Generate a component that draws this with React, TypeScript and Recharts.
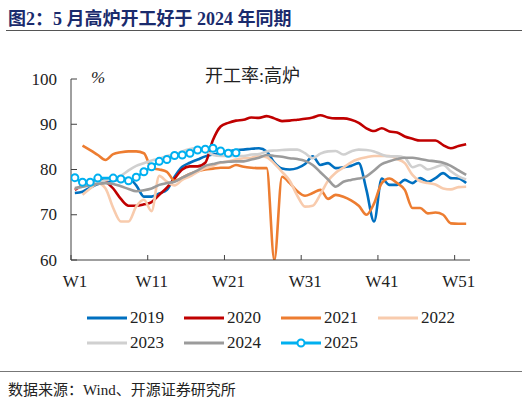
import { LineChart, Line, XAxis, YAxis } from 'recharts';

document.body.style.margin = '0';

// weekly blast furnace utilisation (%), W1..W52
const weeks = Array.from({ length: 52 }, (_, i) => i + 1);

const y2019 = [
  74.8, 75.1, 76, 76.8, 77.2, 77.5, 77.8, 78, 76.5, 74, 74, 74.7, 75.5, 78.4, 80.6, 81.5, 82.2, 82.9,
  83.3, 83.6, 84, 84.3, 84.4, 84.6, 84.7, 84, 81.5, 80.2, 80, 80.3, 81.2, 82.9, 81, 81.4, 80.3, 80.5,
  80.8, 81.4, 75.5, 68.5, 78, 76.6, 76.6, 77.7, 77, 78.1, 77.3, 78.1, 79.2, 78.1, 78, 77,
];
const y2020 = [
  75.5, 76.5, 77.3, 77.8, 77.3, 75.8, 73.5, 72, 72, 72.3, 72.8, 74.4, 76, 78, 80, 80.7, 80.7, 81.5,
  86.5, 89.5, 90.3, 90.8, 91, 91.5, 91.4, 91.8, 91.3, 90.7, 90.8, 91, 91.2, 91.5, 92, 91.5, 91.3, 91.3,
  91, 90.3, 89.1, 88.5, 89.1, 88.4, 88.2, 87.3, 86.8, 86.4, 86.4, 86.4, 85.4, 84.7, 85.2, 85.6,
];
const y2021 = [
  null, 85.3, 84.3, 83.2, 82.1, 83.4, 83.8, 84, 84, 83.6, 80.3, 80, 79.5, 77.5, 78.2, 79, 79.6, 80,
  80.2, 80.4, 80.4, 81, 80.6, 80.4, 80.3, 80.3, 60, 78.4, 77, 75.2, 74.2, 74.8, 75.5, 73.5, 74.4, 74,
  73.2, 72, 70, 72.5, 77, 78, 77, 75.5, 71.5, 71.5, 70.3, 70.5, 70, 68.1, 68, 68,
];
const y2022 = [
  null, 74.4, 75.8, 77, 75.8, 71.5, 68.5, 68.5, 71.8, 73.3, 70.8, 78.6, 77.3, 76.5, 77.7, 78.5, 79.5, 80.3,
  80.8, 81.5, 81.8, 82.2, 82.5, 82.6, 83, 82.7, 81.3, 79.5, 77.5, 74.2, 71.8, 72, 74.5, 77.5, 79.3, 80.4,
  81.6, 82.3, 82.7, 83, 83, 83, 82.3, 81.4, 78.8, 77.4, 77, 76.7, 75.8, 75.6, 76.1, 76.2,
];
const y2023 = [
  75.8, 76.2, 76.8, 77.3, 77.6, 78, 78.6, 79.8, 80.8, 81.4, 82, 82.4, 83, 83.3, 84, 84.5, 84.8, 84.2,
  83.2, 83, 83, 83, 83, 83.3, 83.4, 84, 84.2, 84.3, 84.4, 84.4, 83.6, 82.5, 83.5, 84, 84.1, 83.3,
  84, 84.4, 84.3, 84, 83.3, 82.9, 82.9, 82.6, 80.5, 81, 80, 80.5, 81, 79.6, 78.5, 77.8,
];
const y2024 = [
  75.9, 76.2, 76.5, 76.8, 77, 76.8, 76.3, 75.7, 75.2, 75.4, 75.8, 76.6, 77, 77.3, 78.2, 79, 79.8, 80.8,
  81.2, 81.6, 81.7, 81.8, 81.8, 82.2, 82.6, 83.2, 83, 82.8, 82.5, 82.3, 81.9, 81, 79.4, 77.8, 76.2, 77.3,
  77.7, 78, 78.5, 79.8, 81.2, 81.8, 82.3, 82.6, 82.6, 82.3, 82, 81.8, 81.5, 80.8, 79.8, 78.8,
];
const y2025 = [
  78.2, 77.2, 77.2, 78.1, null, 78.1, 77.9, 77.5, 78.3, 79.5, 80.6, 81.8, 82.2, 83.1, 83.2, 83.6, 84.3, 84.5,
  84.7, 84.1, 83.6, 83.7,
];

const yTicks = [60, 70, 80, 90, 100];
const xTickWeeks = [1, 11, 21, 31, 41, 51];

const series = [
  { key: 'y2019', name: '2019', values: y2019, color: '#0070C0' },
  { key: 'y2020', name: '2020', values: y2020, color: '#C00000' },
  { key: 'y2021', name: '2021', values: y2021, color: '#ED7D31' },
  { key: 'y2022', name: '2022', values: y2022, color: '#F8CBAD' },
  { key: 'y2023', name: '2023', values: y2023, color: '#D0D0D0' },
  { key: 'y2024', name: '2024', values: y2024, color: '#9B9B9B' },
  { key: 'y2025', name: '2025', values: y2025, color: '#00B0F0', dots: true },
];

// each week sits in the middle of its band, ticks sit on band edges
const data = weeks.map((w, i) => {
  const row: Record<string, number | null> = { week: w - 0.5 };
  series.forEach((s) => {
    row[s.key] = i < s.values.length ? s.values[i] : null;
  });
  return row;
});

const SERIF = "'Times New Roman', 'Liberation Serif', 'Noto Sans CJK SC', serif";
const AXIS = '#404040';

const YTick = ({ x, y, payload }: any) => (
  <g>
    <line x1={x} x2={x + 6} y1={y} y2={y} stroke={AXIS} />
    <text x={x - 14} y={y} textAnchor="end" dominantBaseline="central" fontSize={17} fontFamily={SERIF} fill="#222">
      {payload.value}
    </text>
  </g>
);

const XTick = ({ x, y, payload }: any) => (
  <g>
    <line x1={x} x2={x} y1={y} y2={y - 5} stroke={AXIS} />
    <text x={x + 4} y={y + 27} textAnchor="middle" fontSize={17} fontFamily={SERIF} fill="#222">
      {'W' + (payload.value + 1)}
    </text>
  </g>
);

const LegendItem = ({ s }: any) => (
  <div style={{ display: 'flex', alignItems: 'center', width: 97 }}>
    <svg width={42} height={10}>
      <line x1={1} x2={41} y1={5} y2={5} stroke={s.color} strokeWidth={3} />
      {s.dots && <circle cx={21} cy={5} r={3.5} fill="#fff" stroke={s.color} strokeWidth={2} />}
    </svg>
    <span style={{ fontFamily: SERIF, fontSize: 17, color: '#222', marginLeft: 2 }}>{s.name}</span>
  </div>
);

export default function App() {
  return (
    <div style={{ position: 'relative', width: 522, height: 404, background: '#fff', overflow: 'hidden' }}>
      <div
        style={{
          position: 'absolute',
          left: 8,
          top: 4,
          fontFamily: SERIF,
          fontWeight: 'bold',
          fontSize: 18,
          color: '#1A2B6D',
          whiteSpace: 'pre',
        }}
      >
        图2：5 月高炉开工好于 2024 年同期
      </div>
      <div style={{ position: 'absolute', left: 6, right: 0, top: 30, borderTop: '1.5px solid #555' }} />

      <div style={{ position: 'absolute', left: 0, top: 0 }}>
        <LineChart width={522} height={300} data={data} margin={{ top: 79, right: 52, bottom: 10, left: 31 }}>
          <XAxis
            dataKey="week"
            type="number"
            domain={[0, 52]}
            ticks={xTickWeeks.map((w) => w - 1)}
            tick={<XTick />}
            tickLine={false}
            tickSize={0}
            tickMargin={0}
            height={30}
            stroke={AXIS}
            allowDataOverflow
          />
          <YAxis
            domain={[60, 100]}
            ticks={yTicks}
            tick={<YTick />}
            tickLine={false}
            tickSize={0}
            tickMargin={0}
            width={40}
            stroke={AXIS}
            allowDataOverflow
          />
          {series.map((s) => (
            <Line
              key={s.key}
              dataKey={s.key}
              type="monotone"
              stroke={s.color}
              strokeWidth={2.6}
              connectNulls={!!s.dots}
              dot={s.dots ? { r: 3.5, fill: '#fff', stroke: s.color, strokeWidth: 2 } : false}
              activeDot={false}
              isAnimationActive={false}
            />
          ))}
        </LineChart>
      </div>

      <div style={{ position: 'absolute', left: 91, top: 68, fontFamily: SERIF, fontSize: 17, fontStyle: 'italic', color: '#222' }}>
        %
      </div>
      <div style={{ position: 'absolute', left: 205, top: 61, fontFamily: SERIF, fontSize: 18, color: '#222' }}>
        开工率:高炉
      </div>

      <div style={{ position: 'absolute', left: 86, top: 308, width: 400, display: 'flex', flexWrap: 'wrap', rowGap: 5 }}>
        {series.map((s) => (
          <LegendItem key={s.key} s={s} />
        ))}
      </div>

      <div style={{ position: 'absolute', left: 0, right: 0, top: 371, borderTop: '1.5px solid #777' }} />
      <div style={{ position: 'absolute', left: 8, top: 378, fontFamily: SERIF, fontSize: 15, color: '#222' }}>
        数据来源：Wind、开源证券研究所
      </div>
    </div>
  );
}
